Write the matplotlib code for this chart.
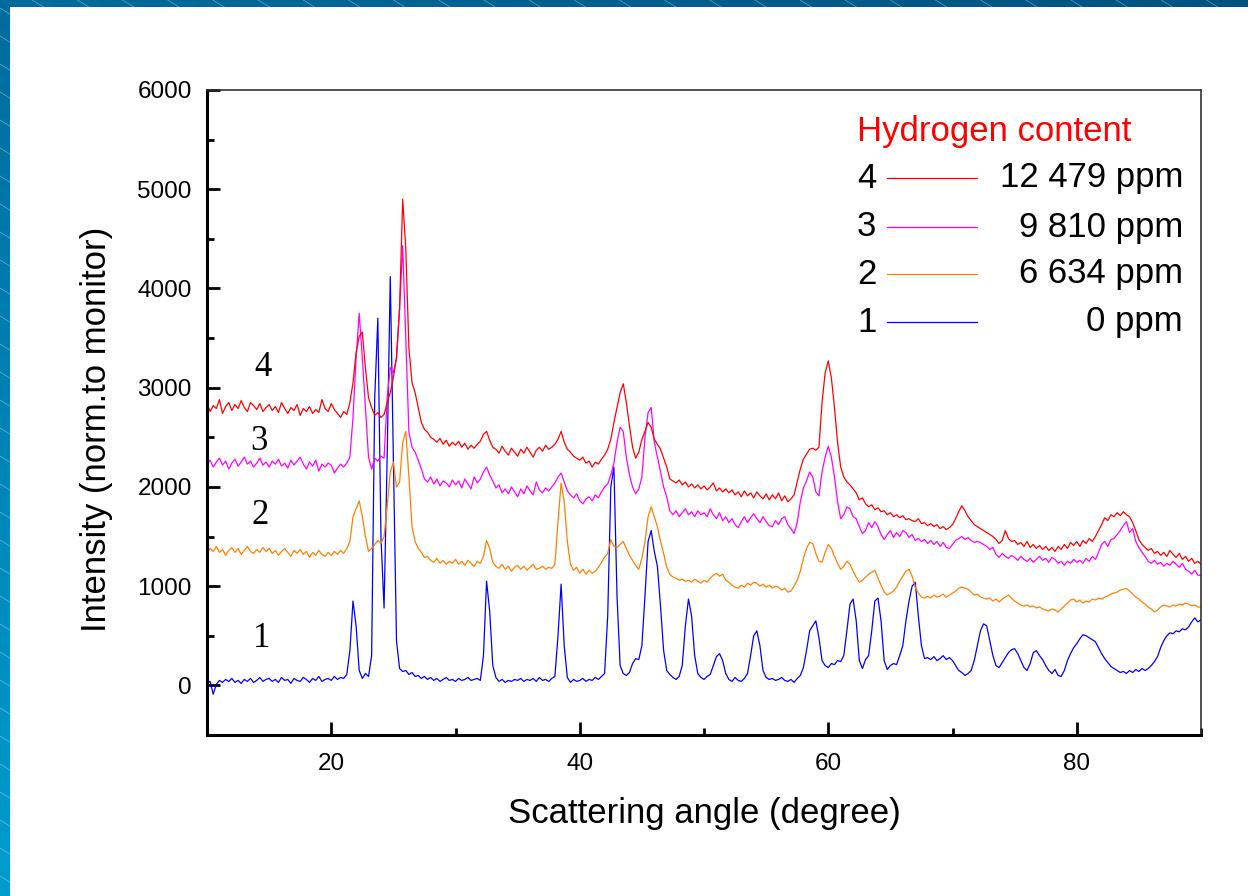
import numpy as np
import matplotlib
matplotlib.use("Agg")
import matplotlib.pyplot as plt
from matplotlib.lines import Line2D

plt.rcParams['font.family'] = ['Liberation Sans', 'DejaVu Sans']

# ---------------- data ----------------
ANGLE_START = 10.0
ANGLE_STEP = 0.25

# series 1: 0 ppm (blue)
s1 = [
    20, 40, -90, 10, 50, 30, 60, 40, 70, 30, 50, 20, 60, 40, 70, 30, 50, 80, 40, 60,
    70, 40, 60, 30, 80, 50, 60, 20, 70, 50, 40, 80, 60, 30, 70, 50, 90, 40, 60, 70,
    50, 90, 60, 80, 70, 110, 350, 850, 600, 150, 70, 120, 90, 300, 2900, 3700, 1500, 780, 2300, 4120,
    2300, 450, 170, 140, 150, 110, 130, 90, 100, 70, 90, 60, 80, 50, 70, 40, 60, 80, 50, 60,
    40, 70, 50, 60, 80, 50, 60, 70, 50, 300, 1050, 750, 200, 80, 40, 60, 30, 50, 40, 60,
    50, 70, 40, 60, 50, 70, 40, 80, 50, 60, 40, 70, 90, 500, 1020, 400, 80, 30, 60, 40,
    50, 70, 40, 60, 50, 80, 60, 90, 120, 700, 2000, 2200, 900, 200, 120, 100, 130, 220, 270, 260,
    400, 900, 1450, 1560, 1350, 1200, 800, 350, 150, 110, 80, 60, 90, 200, 600, 870, 700, 300, 120, 80,
    60, 90, 110, 200, 290, 320, 250, 120, 60, 40, 80, 50, 40, 70, 120, 300, 500, 550, 400, 150,
    80, 60, 70, 50, 60, 80, 50, 40, 60, 30, 70, 100, 180, 350, 550, 600, 650, 480, 250, 200,
    180, 220, 210, 250, 240, 300, 550, 820, 870, 650, 250, 170, 260, 300, 550, 850, 880, 650, 250, 160,
    200, 220, 210, 300, 400, 650, 850, 1000, 1040, 700, 400, 270, 280, 260, 290, 250, 270, 300, 260, 280,
    250, 200, 150, 130, 100, 120, 150, 250, 400, 550, 620, 600, 450, 300, 200, 180, 230, 280, 330, 360,
    370, 320, 250, 180, 150, 220, 330, 350, 300, 260, 200, 150, 120, 160, 100, 90, 150, 250, 320, 380,
    420, 470, 510, 500, 480, 460, 440, 380, 320, 270, 230, 190, 170, 150, 130, 140, 120, 150, 130, 160,
    140, 170, 150, 170, 200, 240, 290, 380, 450, 500, 530, 520, 550, 540, 570, 560, 590, 640, 680, 640,
    660,
]

# series 2: 6 634 ppm (orange)
s2 = [
    1330, 1380, 1350, 1400, 1340, 1370, 1310, 1360, 1390, 1340, 1380, 1320, 1360, 1400, 1350, 1330, 1370, 1340, 1390, 1350,
    1380, 1330, 1360, 1310, 1350, 1380, 1340, 1300, 1360, 1330, 1370, 1320, 1350, 1290, 1340, 1310, 1360, 1320, 1300, 1340,
    1310, 1350, 1320, 1360, 1330, 1380, 1450, 1700, 1780, 1860, 1700, 1500, 1350, 1380, 1420, 1460, 1430, 1500, 1800, 2150,
    2250, 2000, 2050, 2450, 2560, 2100, 1600, 1450, 1380, 1340, 1290, 1300, 1260, 1240, 1280, 1230, 1260, 1220, 1250, 1230,
    1270, 1220, 1250, 1210, 1260, 1230, 1200, 1250, 1230, 1300, 1460, 1380, 1240, 1200, 1180, 1220, 1170, 1200, 1150, 1190,
    1210, 1170, 1200, 1160, 1190, 1220, 1170, 1180, 1200, 1170, 1190, 1180, 1220, 1650, 2040, 1850, 1450, 1220, 1160, 1190,
    1130, 1170, 1120, 1160, 1130, 1150, 1190, 1240, 1290, 1330, 1470, 1400, 1390, 1420, 1450, 1380, 1310, 1260, 1210, 1170,
    1280, 1450, 1700, 1800, 1700, 1600, 1450, 1330, 1190, 1120, 1090, 1080, 1060, 1070, 1050, 1060, 1040, 1070, 1050, 1030,
    1060, 1040, 1080, 1110, 1130, 1100, 1120, 1060, 1040, 1010, 990, 980, 1010, 990, 1030, 1010, 1040, 1030, 1000, 1020,
    990, 1010, 980, 1000, 990, 960, 980, 940, 950, 1000, 1060, 1150, 1280, 1380, 1440, 1430, 1330, 1250, 1240, 1340,
    1420, 1380, 1300, 1230, 1170, 1200, 1250, 1220, 1150, 1090, 1040, 1060, 1090, 1120, 1140, 1160, 1080, 1010, 940, 910,
    930, 950, 990, 1050, 1100, 1150, 1170, 1100, 990, 930, 890, 880, 900, 880, 910, 890, 900, 920, 890, 910,
    930, 950, 980, 990, 980, 970, 940, 910, 920, 890, 880, 870, 880, 850, 870, 840, 870, 890, 910, 880,
    850, 830, 810, 800, 810, 790, 800, 780, 790, 770, 760, 750, 770, 760, 740, 770, 800, 830, 860, 870,
    840, 860, 830, 850, 840, 870, 860, 880, 870, 890, 900, 920, 930, 940, 960, 970, 975, 950, 920, 890,
    870, 840, 820, 790, 770, 740, 760, 790, 810, 800, 790, 810, 800, 820, 810, 830, 820, 800, 810, 790,
    790,
]

# series 3: 9 810 ppm (magenta)
s3 = [
    2230, 2270, 2200, 2250, 2290, 2220, 2260, 2180, 2240, 2280, 2210, 2250, 2300, 2230, 2260, 2200, 2240, 2290, 2220, 2250,
    2200, 2260, 2230, 2280, 2210, 2240, 2190, 2270, 2220, 2260, 2300, 2230, 2180, 2250, 2210, 2270, 2160, 2230, 2200, 2240,
    2220, 2140, 2190, 2230, 2200, 2240, 2300, 2700, 3300, 3750, 3300, 2800, 2300, 2180, 2290, 2260, 2310, 2290, 2900, 3200,
    3150, 3300, 3800, 4430, 3500, 2550, 2400, 2350, 2270, 2180, 2080, 2050, 2100, 2030, 2080, 2010, 2060, 2040, 2000, 2070,
    2020, 2060, 1990, 2080, 2030, 1980, 2100, 2040, 2080, 2150, 2200, 2120, 2060, 1990, 2020, 1940, 1980, 1930, 2000, 1950,
    1900, 1980, 1930, 2010, 1960, 1920, 2050, 1970, 1940, 1990, 1960, 2000, 2040, 2100, 2140, 2050, 1960, 1920, 1890, 1930,
    1860, 1830, 1880, 1900, 1860, 1920, 1890, 1950, 2000, 2030, 2120, 2240, 2450, 2600, 2560, 2300, 2120, 2000, 1930, 1980,
    2100, 2500, 2750, 2800, 2450, 2300, 2150, 2000, 1900, 1760, 1720, 1760, 1700, 1740, 1780, 1720, 1750, 1700, 1760, 1720,
    1740, 1700, 1780, 1720, 1680, 1740, 1660, 1700, 1640, 1680, 1620, 1590, 1650, 1700, 1640, 1690, 1730, 1680, 1640, 1700,
    1650, 1610, 1600, 1660, 1620, 1680, 1700, 1620, 1580, 1530, 1640, 1850, 1990, 2060, 2150, 2100, 1950, 1910, 2150, 2300,
    2410, 2300, 2100, 1850, 1680, 1720, 1800, 1780, 1700, 1680, 1600, 1530, 1560, 1640, 1590, 1650, 1600, 1520, 1470, 1520,
    1560, 1490, 1540, 1500, 1560, 1540, 1490, 1520, 1460, 1480, 1450, 1470, 1430, 1460, 1420, 1450, 1400, 1440, 1390, 1380,
    1420, 1460, 1480, 1500, 1470, 1490, 1460, 1440, 1450, 1440, 1420, 1400, 1370, 1390, 1320, 1290, 1330, 1300, 1280, 1310,
    1290, 1260, 1300, 1270, 1250, 1280, 1240, 1270, 1300, 1260, 1280, 1240, 1290, 1270, 1230, 1250, 1210, 1250, 1230, 1270,
    1240, 1260, 1230, 1280, 1250, 1300, 1270, 1340, 1420, 1450, 1400, 1470, 1480, 1520, 1560, 1610, 1650, 1540, 1580, 1450,
    1390, 1340, 1300, 1250, 1230, 1260, 1220, 1240, 1200, 1230, 1210, 1250, 1220, 1190, 1230, 1170, 1150, 1120, 1160, 1110,
    1110,
]

# series 4: 12 479 ppm (red)
s4 = [
    2840, 2760, 2820, 2790, 2880, 2740, 2810, 2850, 2770, 2830, 2790, 2870, 2800, 2760, 2850, 2820, 2780, 2840, 2760, 2800,
    2830, 2770, 2810, 2750, 2850, 2790, 2740, 2800, 2770, 2830, 2720, 2790, 2760, 2810, 2740, 2780, 2750, 2880, 2790, 2760,
    2840, 2780, 2740, 2700, 2760, 2730, 2850, 3050, 3350, 3520, 3560, 3200, 2900, 2800, 2720, 2750, 2700, 2730, 2850, 2950,
    3100, 3300, 3800, 4900, 4400, 3400, 3050, 2950, 2800, 2650, 2580, 2550, 2500, 2480, 2450, 2490, 2430, 2470, 2410, 2450,
    2420, 2460, 2400, 2440, 2380, 2420, 2390, 2430, 2460, 2530, 2560, 2470, 2400, 2380, 2340, 2410, 2360, 2320, 2390, 2350,
    2310, 2380, 2340, 2400, 2350, 2300, 2370, 2400, 2360, 2420, 2380, 2400, 2430, 2480, 2560, 2450, 2380, 2350, 2310, 2290,
    2270, 2300, 2240, 2260, 2200, 2250, 2230, 2280, 2320, 2380, 2480, 2650, 2800, 2950, 3040, 2850, 2620, 2400, 2290, 2350,
    2480, 2560, 2650, 2600, 2480, 2430, 2380, 2290, 2200, 2080, 2060, 2040, 2070, 2020, 2050, 2000, 2030, 1990, 2020, 1980,
    2010, 1970, 2000, 2040, 1960, 1990, 1950, 1980, 1940, 1970, 1920, 1950, 1900, 1960, 1910, 1940, 1890, 1950, 1910, 1880,
    1930, 1870, 1920, 1880, 1940, 1860, 1910, 1850, 1880, 1920, 2050, 2180, 2280, 2330, 2380, 2390, 2370, 2400, 2850, 3150,
    3270, 3100, 2800, 2450, 2200, 2100, 2050, 2020, 1980, 1940, 1870, 1890, 1830, 1800, 1820, 1770, 1790, 1750, 1760, 1720,
    1740, 1700, 1720, 1690, 1710, 1670, 1680, 1660, 1650, 1680, 1630, 1640, 1610, 1630, 1600, 1620, 1580, 1600, 1570, 1590,
    1620, 1680, 1750, 1810, 1760, 1700, 1660, 1620, 1600, 1580, 1560, 1540, 1520, 1500, 1470, 1430, 1460, 1560, 1480, 1450,
    1460, 1420, 1440, 1400, 1450, 1390, 1420, 1380, 1410, 1370, 1400, 1360, 1390, 1350, 1400, 1370, 1420, 1380, 1440, 1410,
    1450, 1400, 1460, 1430, 1480, 1450, 1500, 1560, 1620, 1690, 1660, 1720, 1700, 1740, 1710, 1750, 1720, 1700, 1640, 1560,
    1470, 1420, 1390, 1360, 1380, 1330, 1350, 1310, 1340, 1300, 1360, 1320, 1290, 1330, 1270, 1300, 1250, 1280, 1230, 1250,
    1220,
]

series_values = [s1, s2, s3, s4]
series_numbers = ["1", "2", "3", "4"]
series_labels = ["0 ppm", "6 634 ppm", "9 810 ppm", "12 479 ppm"]
series_colors = ["#0000FF", "#FF8000", "#FF00FF", "#FF0000"]
legend_title = "Hydrogen content"
x_label = "Scattering angle (degree)"
y_label = "Intensity (norm.to monitor)"
x_ticks = [20, 40, 60, 80]
y_ticks = [0, 1000, 2000, 3000, 4000, 5000, 6000]

angles = ANGLE_START + ANGLE_STEP * np.arange(len(s1))

# ---------------- figure ----------------
W, H = 1248, 896
fig = plt.figure(figsize=(W / 100, H / 100), dpi=100)
fig.patch.set_facecolor("white")

def fx(px):
    return px / W

def fy(py):
    return 1 - py / H

# decorative blue frame (top and left strips)
bg = fig.add_axes([0, 0, 1, 1], zorder=-10)
bg.set_xlim(0, W)
bg.set_ylim(H, 0)
bg.axis("off")
gx = np.linspace(0, 1, 64)
gy = np.linspace(0, 1, 64)
GX, GY = np.meshgrid(gx, gy)
t = np.clip(0.65 * GY + 0.35 * (1 - GX), 0, 1)
c_dark = np.array([0x00, 0x52, 0x84]) / 255
c_light = np.array([0x00, 0x9C, 0xCE]) / 255
img = c_dark[None, None, :] * (1 - t[..., None]) + c_light[None, None, :] * t[..., None]
bg.imshow(img, extent=[0, W, H, 0], aspect="auto", interpolation="bilinear")
for k in range(-60, 60):
    x0 = -200
    y0 = k * 28 - 200
    bg.plot([x0, x0 + 2000], [y0, y0 + 2000 * 0.62], color=(1, 1, 1, 0.35), lw=0.6)
bg.add_patch(plt.Rectangle((10, 7), W, H, facecolor="white", edgecolor="none", zorder=5))

# main axes
ax = fig.add_axes([fx(207), fy(735), fx(1201) - fx(207), fy(90) - fy(735)])
ax.set_facecolor("none")
for vals, col in zip(series_values, series_colors):
    ax.plot(angles, vals, color=col, lw=0.9)

ax.set_xlim(10, 90)
ax.set_ylim(-500, 6000)
ax.set_xticks(x_ticks)
ax.set_xticks([10, 30, 50, 70, 90], minor=True)
ax.set_yticks(y_ticks)
ax.set_yticks([-500, 500, 1500, 2500, 3500, 4500, 5500], minor=True)
ax.tick_params(axis="both", which="major", direction="in", length=9.5, width=2.0,
               labelsize=17.5, top=False, right=False)
ax.tick_params(axis="both", which="minor", direction="in", length=5, width=2.0,
               top=False, right=False)
ax.tick_params(axis="y", which="major", pad=11)
ax.tick_params(axis="x", which="major", pad=13)
for side in ["left", "bottom"]:
    ax.spines[side].set_linewidth(2.2)
    ax.spines[side].set_color("black")
for side in ["top", "right"]:
    ax.spines[side].set_linewidth(1.2)
    ax.spines[side].set_color("#333333")

ax.set_xlabel(x_label, fontsize=25, labelpad=16)
ax.set_ylabel(y_label, fontsize=25, va="center")
ax.yaxis.set_label_coords(-0.1107, 0.474)

# curve number labels (serif)
num_pos = {"4": (14.5, 3200), "3": (14.2, 2460), "2": (14.3, 1714), "1": (14.4, 474)}
for n in series_numbers:
    xx, yy = num_pos[n]
    ax.text(xx, yy, n, fontsize=25, family=["Liberation Serif", "DejaVu Serif"],
            ha="center", va="center")

# legend (custom, as in reference)
fig.text(fx(857), fy(131), legend_title, color="#FF0000", fontsize=25,
         ha="left", va="center")
row_y = [322, 274, 227, 178]
for n, lab, col, ry in zip(series_numbers, series_labels, series_colors, row_y):
    fig.text(fx(857), fy(ry), n, fontsize=25, ha="left", va="center")
    fig.add_artist(Line2D([fx(887), fx(977)], [fy(ry), fy(ry)], color=col, lw=0.9,
                          transform=fig.transFigure))
    fig.text(fx(1183), fy(ry), lab, fontsize=25, ha="right", va="center")

fig.savefig("out.png", dpi=100)
